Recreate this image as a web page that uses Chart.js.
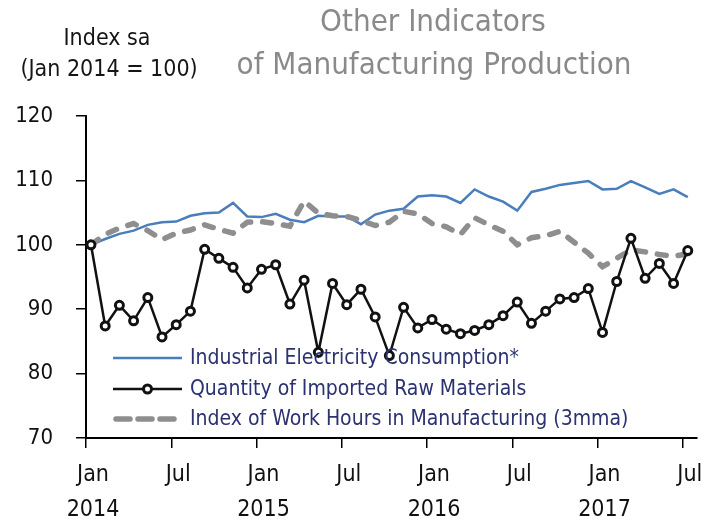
<!DOCTYPE html>
<html>
<head>
<meta charset="utf-8">
<script src="https://cdn.jsdelivr.net/npm/chart.js@4/dist/chart.umd.min.js"></script>
<style>
html,body{margin:0;padding:0;background:#ffffff;}
#wrap{width:710px;height:519px;position:relative;}
</style>
</head>
<body>
<div id="wrap"><canvas id="c" width="710" height="519"></canvas></div>
<script>
// ---- Data (monthly, Jan 2014 .. Jul 2017) ----
const seriesNames = [
  'Industrial Electricity Consumption*',
  'Quantity of Imported Raw Materials',
  'Index of Work Hours in Manufacturing (3mma)'
];
const electricity = [
  100.0, 100.9, 101.7, 102.2, 103.1, 103.5, 103.6, 104.5, 104.9, 105.0, 106.5, 104.4,
  104.3, 104.8, 103.9, 103.5, 104.5, 104.4, 104.4, 103.2, 104.7, 105.3, 105.6, 107.5,
  107.7, 107.5, 106.5, 108.6, 107.5, 106.7, 105.3, 108.2, 108.7, 109.3, 109.6, 109.9,
  108.6, 108.7, 109.9, 108.9, 107.9, 108.6, 107.4
];
const importedRaw = [
  100.0, 87.4, 90.6, 88.2, 91.8, 85.7, 87.6, 89.7, 99.3, 97.9, 96.5, 93.3,
  96.2, 96.9, 90.8, 94.5, 83.3, 94.0, 90.7, 93.1, 88.8, 82.8, 90.3, 87.1,
  88.4, 86.9, 86.2, 86.7, 87.6, 89.0, 91.1, 87.8, 89.7, 91.6, 91.8, 93.2,
  86.4, 94.3, 101.0, 94.8, 97.1, 94.0, 99.1
];
const workHours = [
  100.0, 101.6, 102.6, 103.3, 102.2, 100.8, 101.8, 102.3, 103.1, 102.4, 101.8, 103.5,
  103.6, 103.3, 102.9, 106.8, 104.9, 104.5, 104.4, 103.8, 103.0, 103.5, 105.2, 104.8,
  103.3, 102.8, 101.6, 104.2, 103.1, 102.1, 100.0, 101.1, 101.4, 102.1, 100.4, 98.7,
  96.6, 97.9, 99.2, 98.9, 98.5, 98.2, 98.6
];
const xTickLabels = [
  ['Jan','2014'], ['Jul'], ['Jan','2015'], ['Jul'],
  ['Jan','2016'], ['Jul'], ['Jan','2017'], ['Jul']
];
const yTickValues = [70, 80, 90, 100, 110, 120];
const yAxisTitle = ['Index sa', '(Jan 2014 = 100)'];
const chartTitle = ['Other Indicators', 'of Manufacturing Production'];

// ---- Styling ----
const FONT = "'DejaVu Sans Condensed', 'DejaVu Sans', sans-serif";
const BLUE = '#4a7ebb';
const BLACK = '#111111';
const GREY = '#8e8e8e';
const MONTH_OFFSET = 0.35; // observations plotted mid-month, ticks at month start

function toPoints(arr) { return arr.map((v, i) => ({ x: i + MONTH_OFFSET, y: v })); }

const styles = [
  { borderColor: BLUE, borderWidth: 2.5, pointRadius: 0, borderDash: [], order: 3 },
  { borderColor: BLACK, borderWidth: 2.5, pointRadius: 4, pointBorderWidth: 3,
    pointBackgroundColor: '#ffffff', pointBorderColor: BLACK, borderDash: [], order: 1 },
  { borderColor: GREY, borderWidth: 5.5, pointRadius: 0, borderDash: [9, 12], borderCapStyle: 'round', order: 2 }
];
const seriesData = [electricity, importedRaw, workHours];

const datasets = seriesData.map((arr, k) => Object.assign({
  label: seriesNames[k],
  data: toPoints(arr),
  fill: false,
  tension: 0,
  pointHoverRadius: 0
}, styles[k]));

const titlePlugin = {
  id: 'titles',
  afterDraw(chart) {
    const ctx = chart.ctx;
    ctx.save();
    ctx.textBaseline = 'middle';
    ctx.textAlign = 'center';
    ctx.fillStyle = '#151515';
    ctx.font = '23px ' + FONT;
    ctx.fillText(yAxisTitle[0], 107, 39);
    ctx.fillText(yAxisTitle[1], 109, 70);
    ctx.fillStyle = '#8a8a8a';
    ctx.font = '31px ' + FONT;
    ctx.fillText(chartTitle[0], 433, 23);
    ctx.fillText(chartTitle[1], 434, 66);
    ctx.restore();
  }
};

const legendPlugin = {
  id: 'innerLegend',
  afterDatasetsDraw(chart) {
    const ctx = chart.ctx;
    const a = chart.chartArea;
    const x0 = a.left + 27, x1 = a.left + 96, tx = a.left + 104;
    const ys = [a.bottom - 80, a.bottom - 49, a.bottom - 19];
    ctx.save();
    datasets.forEach((ds, k) => {
      const y = ys[k];
      ctx.beginPath();
      ctx.strokeStyle = ds.borderColor;
      ctx.lineWidth = ds.borderWidth;
      ctx.lineCap = ds.borderCapStyle || 'butt';
      ctx.setLineDash(k === 2 ? [14, 8] : []);
      ctx.moveTo(x0 + (k === 2 ? 3 : 0), y);
      ctx.lineTo(x1 - (k === 2 ? 3 : 0), y);
      ctx.stroke();
      ctx.setLineDash([]);
      if (ds.pointRadius) {
        ctx.beginPath();
        ctx.arc((x0 + x1) / 2, y, ds.pointRadius, 0, Math.PI * 2);
        ctx.fillStyle = ds.pointBackgroundColor;
        ctx.fill();
        ctx.lineWidth = ds.pointBorderWidth;
        ctx.strokeStyle = ds.pointBorderColor;
        ctx.stroke();
      }
      ctx.fillStyle = '#2b3270';
      ctx.font = '21px ' + FONT;
      ctx.textAlign = 'left';
      ctx.textBaseline = 'middle';
      ctx.fillText(ds.label, tx, y + 1);
    });
    ctx.restore();
  }
};

new Chart(document.getElementById('c'), {
  type: 'line',
  data: { datasets },
  options: {
    responsive: false,
    animation: false,
    devicePixelRatio: 1,
    events: [],
    layout: { padding: { top: 116, right: 13, left: 0, bottom: 0 } },
    plugins: { legend: { display: false }, tooltip: { enabled: false }, title: { display: false } },
    scales: {
      x: {
        type: 'linear',
        min: 0,
        max: 43,
        afterFit(scale) { scale.height = 81; },
        afterBuildTicks(scale) {
          scale.ticks = xTickLabels.map((_, i) => ({ value: i * 6 }));
        },
        ticks: {
          autoSkip: false,
          maxRotation: 0,
          minRotation: 0,
          includeBounds: false,
          labelOffset: 7,
          padding: 9,
          color: '#111111',
          font: { family: FONT, size: 23, lineHeight: 1.55 },
          callback(value) { return xTickLabels[Math.round(value / 6)]; }
        },
        grid: { display: true, drawOnChartArea: false, drawTicks: true, tickLength: 10, color: '#000000', lineWidth: 1.5 },
        border: { display: true, color: '#000000', width: 2 }
      },
      y: {
        min: 70,
        max: 120,
        afterFit(scale) { scale.width = 86; },
        afterBuildTicks(scale) {
          scale.ticks = yTickValues.map(v => ({ value: v }));
        },
        ticks: {
          padding: 23,
          color: '#111111',
          font: { family: FONT, size: 22 },
          callback(value) { return String(value); }
        },
        grid: { display: true, drawOnChartArea: false, drawTicks: true, tickLength: 10, color: '#000000', lineWidth: 1.5 },
        border: { display: true, color: '#000000', width: 2 }
      }
    }
  },
  plugins: [titlePlugin, legendPlugin]
});
</script>
</body>
</html>
